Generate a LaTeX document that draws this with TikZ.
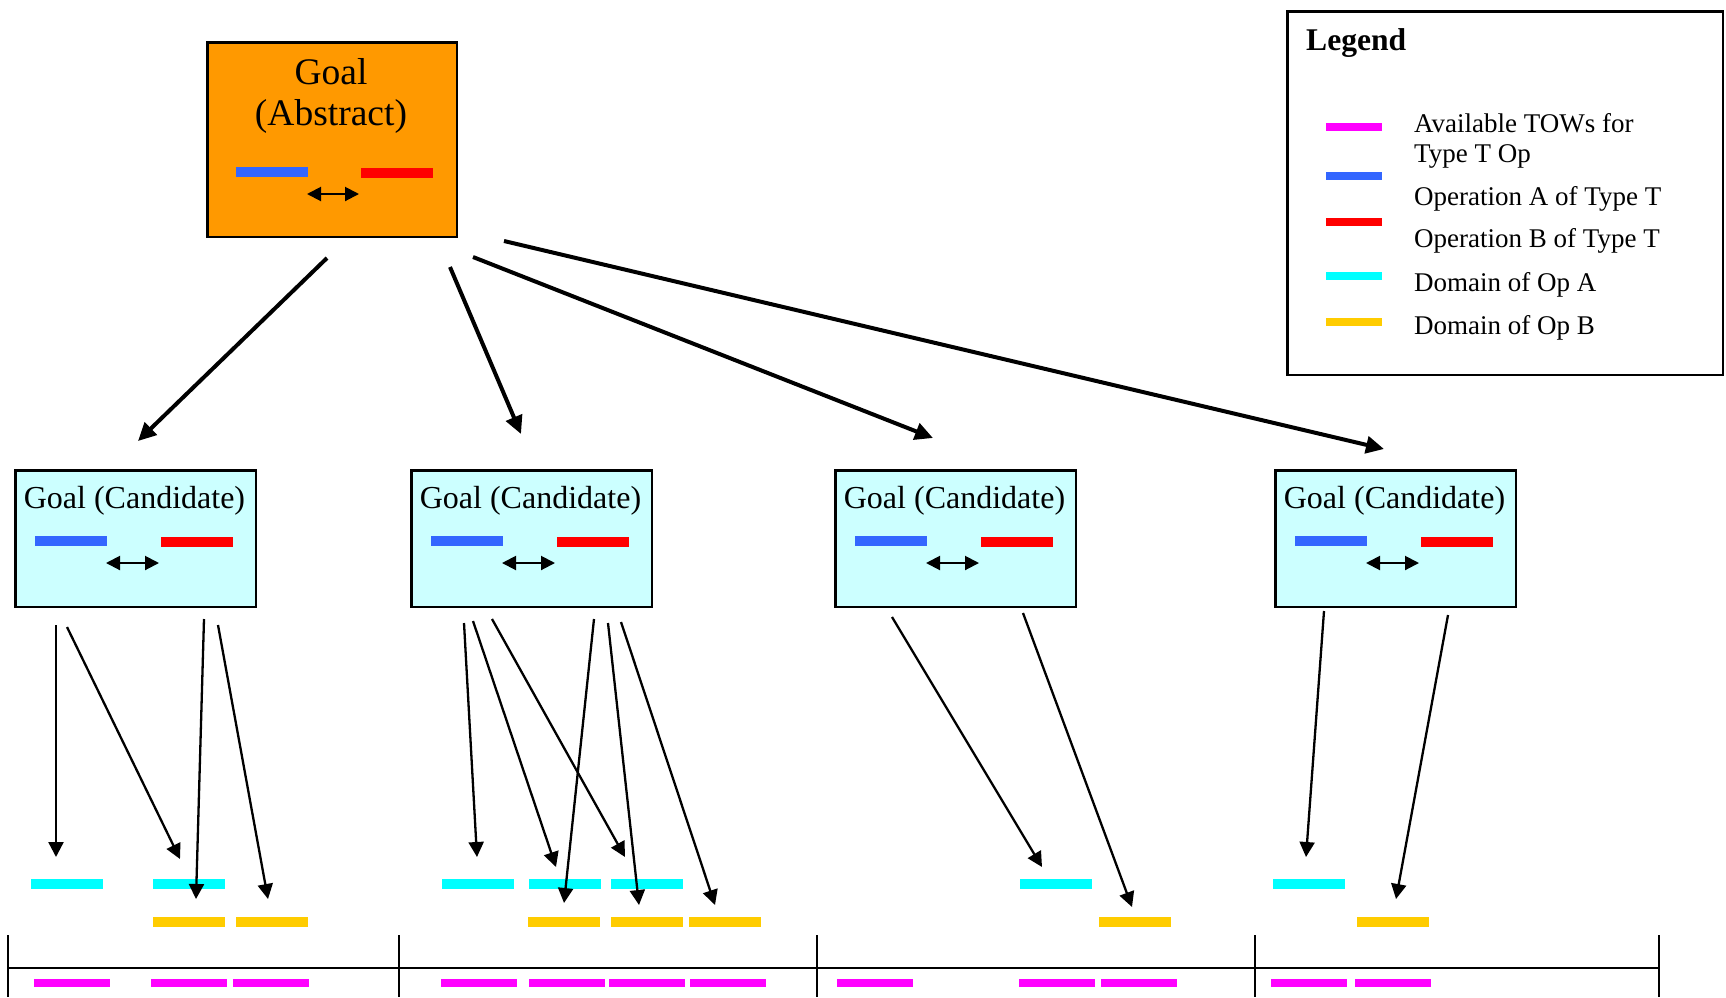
\documentclass[tikz,border=0pt]{standalone}
\usepackage{fontspec}
\setmainfont{Liberation Serif}
\usetikzlibrary{arrows.meta}
\definecolor{goalorange}{RGB}{255,153,0}
\definecolor{candfill}{RGB}{204,255,255}
\definecolor{opblue}{RGB}{51,102,255}
\definecolor{opred}{RGB}{255,0,0}
\definecolor{domcyan}{RGB}{0,255,255}
\definecolor{domyellow}{RGB}{255,204,0}
\definecolor{towmagenta}{RGB}{255,0,255}
\begin{document}
\begin{tikzpicture}[x=1pt,y=-1pt,
  box/.style={draw=black,line width=2.6pt,inner sep=0pt,anchor=north west},
  bar/.style={inner sep=0pt,minimum width=72pt,minimum height=10pt,anchor=west},
  towbar/.style={bar,fill=towmagenta,minimum width=76pt,minimum height=8pt},
  keybar/.style={bar,minimum width=56pt,minimum height=8pt},
  bigarrow/.style={line width=4pt,-{Triangle[length=18pt,width=17pt]}},
  smallarrow/.style={line width=2.3pt,-{Triangle[length=15pt,width=15pt]}},
  swap/.style={line width=2pt,{Triangle[length=14pt,width=14pt]}-{Triangle[length=14pt,width=14pt]}},
  abstext/.style={font=\fontsize{37.5}{42}\selectfont,anchor=base,inner sep=0pt},
  candtext/.style={font=\fontsize{32}{36}\selectfont,anchor=base,inner sep=0pt},
  keytext/.style={font=\fontsize{27}{29}\selectfont,anchor=base west,inner sep=0pt},
  rule/.style={line width=2.6pt}
]
\useasboundingbox[fill=white] (0,0) rectangle (1726,997);

% abstract goal
\node[box,fill=goalorange,minimum width=249.4pt,minimum height=194.4pt] (abs) at (206.3,41.3) {};
\node[abstext] (absA) at (331,84) {Goal};
\node[abstext] (absB) at (331,125) {(Abstract)};
\node[bar,fill=opblue] (absOpA) at (236,172) {};
\node[bar,fill=opred] (absOpB) at (361,173) {};
\coordinate (absL) at (307,194);
\coordinate (absR) at (359,194);
\draw[swap] (absL) -- (absR);

% candidate goals
\foreach \i/\x in {1/13,2/409,3/833,4/1273}{
  \node[box,fill=candfill,minimum width=240.4pt,minimum height=136.4pt] (cand\i) at (\x+1.3,469.3) {};
  \node[candtext] (candT\i) at (\x+121.5,508) {Goal (Candidate)};
  \node[bar,fill=opblue] (candA\i) at (\x+22,541) {};
  \node[bar,fill=opred] (candB\i) at (\x+148,542) {};
  \coordinate (candL\i) at (\x+93,563);
  \coordinate (candR\i) at (\x+146,563);
  \draw[swap] (candL\i) -- (candR\i);
}

% refinement of the abstract goal
\coordinate (s1) at (327,258); \coordinate (e1) at (138,441);
\coordinate (s2) at (450,267); \coordinate (e2) at (521,434);
\coordinate (s3) at (473,257); \coordinate (e3) at (933,438);
\coordinate (s4) at (504,241); \coordinate (e4) at (1384,449);
\foreach \k in {1,...,4}{\draw[bigarrow] (s\k) -- (e\k);}

% domains of the operations
\foreach \n/\x in {d1/31,d2/153,d3/442,d4/529,d5/611,d6/1020,d7/1273}
  \node[bar,fill=domcyan] (\n) at (\x,884) {};
\foreach \n/\x in {y1/153,y2/236,y3/528,y4/611,y5/689,y6/1099,y7/1357}
  \node[bar,fill=domyellow] (\n) at (\x,922) {};

% mapping onto the domains
\foreach \n/\sx/\sy/\ex/\ey in {
  a/56/625/56/857, b/67/627/180/859, c/204/619/196/899, d/218/625/268/899,
  e/464/623/477/857, f/473/621/556/867, g/492/619/625/857,
  h/594/619/564/903, i/608/623/639/905, j/621/622/715/905,
  k/892/617/1042/867, l/1023/613/1132/907,
  m/1324/611/1306/857, n/1448/615/1396/899}{
  \coordinate (ms\n) at (\sx,\sy);
  \coordinate (me\n) at (\ex,\ey);
  \draw[smallarrow] (ms\n) -- (me\n);
}

% time line with its segments
\coordinate (tl0) at (8,968);
\coordinate (tl1) at (1659,968);
\draw[rule] (tl0) -- (tl1);
\foreach \x in {8,399,817,1255,1659}
  \draw[rule] (\x,935) -- (\x,997);
\foreach \n/\x in {w1/34,w2/151,w3/233,w4/441,w5/529,w6/609,w7/690,w8/837,w9/1019,w10/1101,w11/1271,w12/1355}
  \node[towbar] (\n) at (\x,983) {};

% legend
\node[box,line width=2.4pt,minimum width=435.6pt,minimum height=363.6pt] (legend) at (1286.2,10.2) {};
\node[font=\fontsize{31.6}{36}\selectfont\bfseries,anchor=base west,inner sep=0pt] (legendT) at (1306,50) {Legend};
\node[keybar,fill=towmagenta] (k1) at (1326,127) {};
\node[keybar,fill=opblue] (k2) at (1326,176) {};
\node[keybar,fill=opred] (k3) at (1326,222) {};
\node[keybar,fill=domcyan] (k4) at (1326,276) {};
\node[keybar,fill=domyellow] (k5) at (1326,322) {};
\node[keytext] (kt1) at (1414,132) {Available TOWs for};
\node[keytext] (kt1b) at (1414,162) {Type T Op};
\node[keytext] (kt2) at (1414,205) {Operation A of Type T};
\node[keytext] (kt3) at (1414,247) {Operation B of Type T};
\node[keytext] (kt4) at (1414,291) {Domain of Op A};
\node[keytext] (kt5) at (1414,334) {Domain of Op B};
\end{tikzpicture}
\end{document}
